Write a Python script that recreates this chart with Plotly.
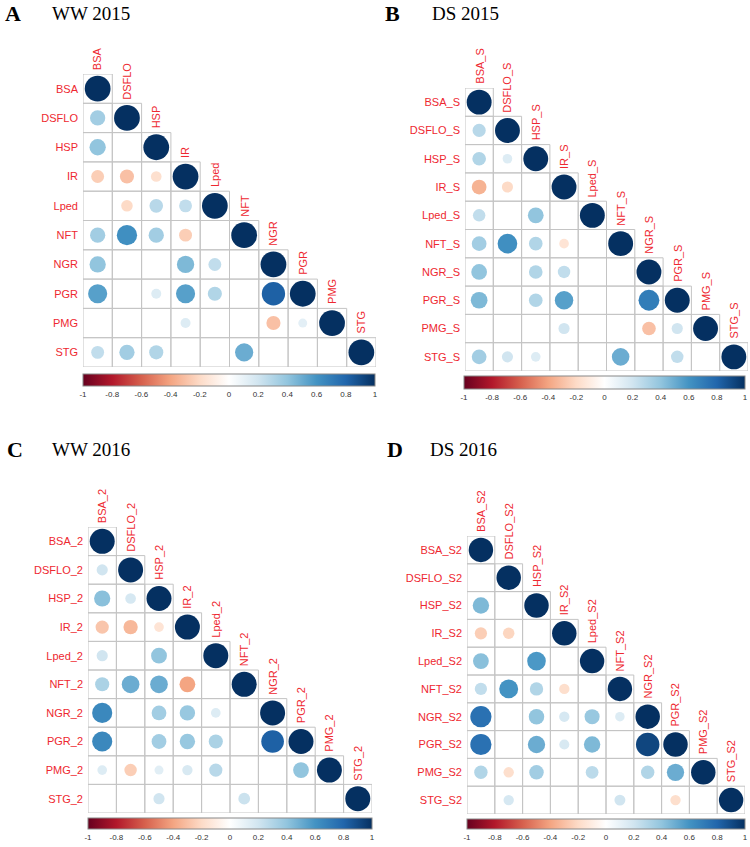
import plotly.graph_objects as go

N = None

# ---------------- data ----------------
labels_A = ["BSA", "DSFLO", "HSP", "IR", "Lped", "NFT", "NGR", "PGR", "PMG", "STG"]
labels_B = ["BSA_S", "DSFLO_S", "HSP_S", "IR_S", "Lped_S", "NFT_S", "NGR_S", "PGR_S", "PMG_S", "STG_S"]
labels_C = ["BSA_2", "DSFLO_2", "HSP_2", "IR_2", "Lped_2", "NFT_2", "NGR_2", "PGR_2", "PMG_2", "STG_2"]
labels_D = ["BSA_S2", "DSFLO_S2", "HSP_S2", "IR_S2", "Lped_S2", "NFT_S2", "NGR_S2", "PGR_S2", "PMG_S2", "STG_S2"]

# lower-triangle correlations (row i, columns 0..i); None = not significant (blank)
corr_A = [
    [1],
    [0.35, 1],
    [0.40, N, 1],
    [-0.25, -0.30, -0.17, 1],
    [N, -0.20, 0.28, 0.25, 1],
    [0.35, 0.62, 0.35, -0.25, N, 1],
    [0.40, N, N, 0.45, 0.25, N, 1],
    [0.55, N, 0.15, 0.55, 0.30, N, 0.82, 1],
    [N, N, N, 0.15, N, N, -0.30, 0.12, 1],
    [0.25, 0.35, 0.30, N, N, 0.50, N, N, N, 1],
]
corr_B = [
    [1],
    [0.28, 1],
    [0.30, 0.15, 1],
    [-0.35, -0.20, N, 1],
    [0.25, N, 0.40, N, 1],
    [0.35, 0.62, 0.30, -0.15, N, 1],
    [0.40, N, 0.30, 0.25, N, N, 1],
    [0.45, N, 0.30, 0.55, N, N, 0.70, 1],
    [N, N, N, 0.20, N, N, -0.30, 0.20, 1],
    [0.35, 0.20, 0.15, N, N, 0.50, N, 0.25, N, 1],
]
corr_C = [
    [1],
    [0.20, 1],
    [0.42, 0.18, 1],
    [-0.28, -0.33, -0.15, 1],
    [0.20, N, 0.40, N, 1],
    [0.32, 0.50, 0.50, -0.40, N, 1],
    [0.65, N, 0.35, 0.38, 0.15, N, 1],
    [0.65, N, 0.35, 0.38, 0.32, N, 0.82, 1],
    [0.15, -0.25, 0.13, 0.17, 0.28, N, N, 0.40, 1],
    [N, N, 0.20, N, N, 0.22, N, N, N, 1],
]
corr_D = [
    [1],
    [N, 1],
    [0.45, N, 1],
    [-0.25, -0.22, N, 1],
    [0.42, N, 0.58, N, 1],
    [0.25, 0.60, 0.30, -0.18, N, 1],
    [0.75, N, 0.40, 0.18, 0.38, 0.15, 1],
    [0.75, N, 0.50, 0.17, 0.45, N, 0.92, 1],
    [0.30, -0.18, 0.35, N, 0.27, N, 0.30, 0.50, 1],
    [N, 0.18, N, N, N, 0.20, N, -0.18, N, 1],
]

panel_letters = ["A", "B", "C", "D"]
panel_titles = ["WW 2015", "DS 2015", "WW 2016", "DS 2016"]
cbar_ticks = [-1, -0.8, -0.6, -0.4, -0.2, 0, 0.2, 0.4, 0.6, 0.8, 1]

# ---------------- styling / layout ----------------
W, H = 750, 847
# grid pixel boxes: (left, top, right, bottom)
boxes = [(83, 74, 376, 367), (465, 88, 748, 371), (88, 527, 372, 813), (467, 536, 745, 814)]
# colorbar pixel boxes: (left, top, right, bottom)
cboxes = [(83, 374, 375, 386), (464, 376, 745, 389), (88, 818, 372, 829), (467, 819, 745, 829)]
title_pos = [((3, 14), (50, 14)), ((383, 14), (430, 14)), ((5, 449), (50, 449)), ((385, 449), (428, 449))]

RdBu = ["#67001F", "#B2182B", "#D6604D", "#F4A582", "#FDDBC7", "#FFFFFF",
        "#D1E5F0", "#92C5DE", "#4393C3", "#2166AC", "#053061"]
cscale = [[i / 10, c] for i, c in enumerate(RdBu)]
RED = "#ee2830"
FONT = "Liberation Sans, Arial, sans-serif"
SERIF = "Liberation Serif, Times New Roman, serif"

fig = go.Figure()
shapes = []
annotations = []
layout = dict(width=W, height=H, margin=dict(l=0, r=0, t=0, b=0, autoexpand=False),
              paper_bgcolor="white", plot_bgcolor="rgba(0,0,0,0)", showlegend=False)

panels = [(labels_A, corr_A), (labels_B, corr_B), (labels_C, corr_C), (labels_D, corr_D)]

for p, (labels, corr) in enumerate(panels):
    k = p + 1
    sfx = "" if k == 1 else str(k)
    L, T, R, B = boxes[p]
    n = len(labels)
    cell = (R - L) / n
    dmax = 0.88 * cell

    xs, ys, rs, sizes = [], [], [], []
    for i, row in enumerate(corr):
        for j, r in enumerate(row):
            # cell borders for lower triangle
            shapes.append(dict(type="rect", xref="x" + sfx, yref="y" + sfx,
                               x0=j - 0.5, x1=j + 0.5, y0=i - 0.5, y1=i + 0.5,
                               line=dict(color="#c4c4c4", width=1), layer="below"))
            if r is None:
                continue
            xs.append(j)
            ys.append(i)
            rs.append(r)
            sizes.append(dmax * abs(r) ** 0.5)

    cl, ct, cr, cb = cboxes[p]
    fig.add_trace(go.Scatter(
        x=xs, y=ys, mode="markers", xaxis="x" + sfx, yaxis="y" + sfx,
        marker=dict(size=sizes, color=rs, coloraxis="coloraxis" + sfx,
                    line=dict(width=0), opacity=1),
        hovertemplate="r=%{marker.color}<extra></extra>"))

    layout["xaxis" + sfx] = dict(domain=[L / W, R / W], range=[-0.5, n - 0.5],
                                 showgrid=False, zeroline=False, showticklabels=False,
                                 showline=False, ticks="", anchor="y" + sfx, fixedrange=True)
    layout["yaxis" + sfx] = dict(domain=[1 - B / H, 1 - T / H], range=[n - 0.5, -0.5],
                                 showgrid=False, zeroline=False, showline=False, ticks="",
                                 tickmode="array", tickvals=list(range(n)), ticktext=labels,
                                 tickfont=dict(family=FONT, size=11, color=RED),
                                 ticklabelstandoff=4, automargin=False,
                                 anchor="x" + sfx, fixedrange=True)
    layout["coloraxis" + sfx] = dict(
        colorscale=cscale, cmin=-1, cmax=1,
        colorbar=dict(orientation="h", lenmode="pixels", len=cr - cl,
                      thickness=cb - ct, thicknessmode="pixels",
                      x=(cl + cr) / 2 / W, xanchor="center",
                      y=1 - ct / H, yanchor="top", xpad=0, ypad=0,
                      outlinecolor="#888888", outlinewidth=1,
                      tickmode="array", tickvals=cbar_ticks,
                      ticktext=[("%g" % t) for t in cbar_ticks], ticks="",
                      tickfont=dict(family=FONT, size=8, color="#333333")))

    # column labels (rotated) above diagonal cells
    for j, lab in enumerate(labels):
        annotations.append(dict(x=j, y=j - 0.5, xref="x" + sfx, yref="y" + sfx,
                                text=lab, textangle=-90, showarrow=False,
                                xanchor="center", yanchor="bottom", yshift=2,
                                font=dict(family=FONT, size=11, color=RED)))

    (lx, ly), (tx, ty) = title_pos[p]
    annotations.append(dict(x=lx / W, y=1 - ly / H, xref="paper", yref="paper",
                            text="<b>" + panel_letters[p] + "</b>", showarrow=False,
                            xanchor="left", yanchor="middle",
                            font=dict(family=SERIF, size=22, color="black")))
    annotations.append(dict(x=tx / W, y=1 - ty / H, xref="paper", yref="paper",
                            text=panel_titles[p], showarrow=False,
                            xanchor="left", yanchor="middle",
                            font=dict(family=SERIF, size=19, color="black")))

layout["shapes"] = shapes
layout["annotations"] = annotations
fig.update_layout(**layout)
fig.write_html("out.html", config={"displayModeBar": False},
               post_script="document.body.style.margin='0px';")
